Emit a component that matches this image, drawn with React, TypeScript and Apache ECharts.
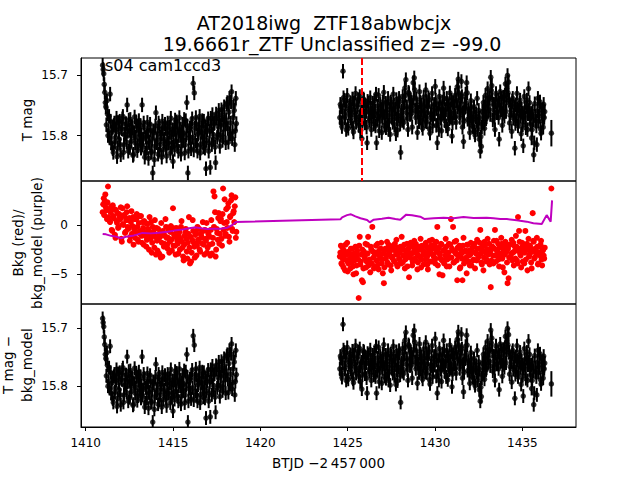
import React, { useEffect, useRef } from "react";
import * as echarts from "echarts";

// ---- data ----
const title1 = "AT2018iwg  ZTF18abwbcjx";
const title2 = "19.6661r_ZTF Unclassified z= -99.0";
const sectorLabel = "s04 cam1ccd3";
const xTicks = [1410, 1415, 1420, 1425, 1430, 1435];
const magTicks = [15.7, 15.8];
const bkgTicks = [-5, 0];
const peakTime = 1425.82;

// sampling grid of the two orbits (BTJD); "b" arrays sit half a step later
const seg1Start = 1410.97;
const seg1Step = 0.061;
const seg2Start = 1424.55;
const seg2Step = 0.06;
const lastTime = 1436.66;

const magErr = 0.012;
const lastMagErr = 0.022;

const tmag1 = [
  15.683, 15.697, 15.728, 15.752, 15.742, 15.8, 15.768, 15.731, 15.812, 15.786,
  15.828, 15.779, 15.803, 15.771, 15.821, 15.794, 15.776, 15.832, 15.789, 15.768,
  15.815, 15.797, 15.78, 15.749, 15.826, 15.791, 15.773, 15.809, 15.787, 15.831,
  15.769, 15.802, 15.784, 15.817, 15.775, 15.798, 15.821, 15.749, 15.806, 15.786,
  15.829, 15.8, 15.778, 15.838, 15.812, 15.791, 15.826, 15.862, 15.795, 15.818,
  15.762, 15.807, 15.831, 15.784, 15.815, 15.797, 15.776, 15.823, 15.806, 15.788,
  15.834, 15.779, 15.812, 15.795, 15.771, 15.819, 15.843, 15.79, 15.774, 15.808,
  15.785, 15.826, 15.77, 15.8, 15.817, 15.781, 15.796, 15.829, 15.775, 15.745,
  15.862, 15.804, 15.787, 15.822, 15.772, 15.713, 15.729, 15.809, 15.781, 15.826,
  15.795, 15.768, 15.814, 15.788, 15.803, 15.776, 15.821, 15.855, 15.791, 15.772,
  15.812, 15.853, 15.784, 15.765, 15.806, 15.779, 15.845, 15.771, 15.798, 15.758,
  15.818, 15.783, 15.766, 15.802, 15.752, 15.789, 15.774, 15.745, 15.811, 15.738,
  15.779, 15.727, 15.794, 15.751, 15.815, 15.738,
];
const tmag1b = [
  15.69, 15.715, 15.745, 15.782, 15.764, 15.792, 15.804, 15.776, 15.795, 15.822,
  15.783, 15.81, 15.79, 15.835, 15.778, 15.806, 15.815, 15.787, 15.772, 15.828,
  15.799, 15.781, 15.811, 15.793, 15.774, 15.82, 15.801, 15.785, 15.833, 15.796,
  15.812, 15.777, 15.825, 15.79, 15.806, 15.783, 15.799, 15.816, 15.779, 15.836,
  15.803, 15.821, 15.793, 15.81, 15.781, 15.828, 15.806, 15.792, 15.84, 15.784,
  15.812, 15.797, 15.779, 15.824, 15.802, 15.836, 15.788, 15.809, 15.781, 15.82,
  15.797, 15.813, 15.786, 15.829, 15.802, 15.79, 15.811, 15.823, 15.796, 15.777,
  15.818, 15.8, 15.789, 15.831, 15.794, 15.808, 15.773, 15.815, 15.799, 15.784,
  15.826, 15.792, 15.811, 15.78, 15.803, 15.824, 15.787, 15.77, 15.816, 15.798,
  15.782, 15.829, 15.794, 15.775, 15.819, 15.801, 15.786, 15.808, 15.779, 15.826,
  15.793, 15.771, 15.815, 15.798, 15.78, 15.819, 15.764, 15.803, 15.785, 15.772,
  15.799, 15.757, 15.808, 15.781, 15.769, 15.812, 15.748, 15.788, 15.761, 15.797,
  15.744, 15.805, 15.77, 15.758, 15.792, 15.78,
];

const tmag2 = [
  15.77, 15.752, 15.785, 15.693, 15.741, 15.768, 15.79, 15.733, 15.788, 15.758,
  15.745, 15.776, 15.739, 15.794, 15.761, 15.73, 15.772, 15.749, 15.783, 15.735,
  15.766, 15.805, 15.752, 15.741, 15.779, 15.76, 15.812, 15.746, 15.771, 15.737,
  15.79, 15.755, 15.768, 15.742, 15.784, 15.812, 15.751, 15.733, 15.776, 15.76,
  15.795, 15.744, 15.728, 15.769, 15.787, 15.752, 15.738, 15.775, 15.798, 15.747,
  15.763, 15.731, 15.782, 15.756, 15.74, 15.791, 15.767, 15.743, 15.828, 15.759,
  15.735, 15.778, 15.721, 15.707, 15.752, 15.79, 15.73, 15.765, 15.744, 15.786,
  15.712, 15.704, 15.758, 15.739, 15.795, 15.762, 15.727, 15.771, 15.749, 15.788,
  15.736, 15.76, 15.724, 15.777, 15.753, 15.741, 15.796, 15.765, 15.73, 15.772,
  15.748, 15.718, 15.783, 15.812, 15.756, 15.735, 15.768, 15.792, 15.744, 15.721,
  15.775, 15.757, 15.738, 15.789, 15.75, 15.729, 15.769, 15.801, 15.745, 15.762,
  15.733, 15.778, 15.719, 15.706, 15.755, 15.74, 15.71, 15.786, 15.81, 15.748,
  15.731, 15.712, 15.773, 15.757, 15.795, 15.742, 15.77, 15.785, 15.752, 15.799,
  15.764, 15.738, 15.781, 15.806, 15.826, 15.818, 15.76, 15.745, 15.788, 15.733,
  15.769, 15.722, 15.751, 15.737, 15.703, 15.717, 15.774, 15.748, 15.79, 15.73,
  15.762, 15.741, 15.806, 15.727, 15.757, 15.783, 15.736, 15.768, 15.714, 15.745,
  15.7, 15.711, 15.779, 15.752, 15.793, 15.738, 15.766, 15.821, 15.749, 15.73,
  15.784, 15.758, 15.741, 15.797, 15.763, 15.817, 15.735, 15.771, 15.752, 15.79,
  15.722, 15.745, 15.781, 15.804, 15.76, 15.832, 15.747, 15.776, 15.815, 15.738,
  15.768, 15.744, 15.796, 15.757, 15.786, 15.77,
];
const tmag2b = [
  15.748, 15.779, 15.76, 15.737, 15.771, 15.755, 15.742, 15.784, 15.763, 15.75,
  15.771, 15.757, 15.788, 15.745, 15.766, 15.778, 15.752, 15.74, 15.769, 15.792,
  15.758, 15.781, 15.739, 15.767, 15.75, 15.786, 15.743, 15.761, 15.775, 15.755,
  15.768, 15.746, 15.781, 15.759, 15.731, 15.773, 15.763, 15.792, 15.748, 15.757,
  15.77, 15.759, 15.783, 15.746, 15.761, 15.775, 15.79, 15.757, 15.744, 15.769,
  15.778, 15.749, 15.763, 15.797, 15.772, 15.752, 15.738, 15.781, 15.766, 15.775,
  15.754, 15.745, 15.733, 15.762, 15.772, 15.728, 15.755, 15.741, 15.763, 15.75,
  15.737, 15.724, 15.77, 15.749, 15.761, 15.777, 15.744, 15.758, 15.782, 15.765,
  15.751, 15.776, 15.743, 15.762, 15.737, 15.789, 15.77, 15.752, 15.784, 15.758,
  15.764, 15.741, 15.755, 15.775, 15.79, 15.746, 15.771, 15.756, 15.763, 15.739,
  15.76, 15.784, 15.747, 15.766, 15.772, 15.756, 15.741, 15.779, 15.763, 15.75,
  15.768, 15.742, 15.753, 15.729, 15.77, 15.758, 15.735, 15.762, 15.776, 15.753,
  15.745, 15.729, 15.76, 15.779, 15.768, 15.754, 15.783, 15.772, 15.794, 15.769,
  15.776, 15.79, 15.758, 15.771, 15.802, 15.786, 15.778, 15.764, 15.752, 15.772,
  15.746, 15.759, 15.738, 15.765, 15.725, 15.74, 15.757, 15.769, 15.744, 15.762,
  15.751, 15.77, 15.746, 15.758, 15.738, 15.763, 15.752, 15.733, 15.76, 15.724,
  15.729, 15.741, 15.766, 15.758, 15.742, 15.771, 15.753, 15.78, 15.768, 15.755,
  15.777, 15.746, 15.768, 15.756, 15.782, 15.769, 15.754, 15.787, 15.741, 15.764,
  15.758, 15.771, 15.763, 15.79, 15.774, 15.812, 15.768, 15.784, 15.759, 15.776,
  15.75, 15.789, 15.763, 15.775, 15.748, 15.76,
];
const lastMag = 15.796;

const bkg1 = [
  1.3, 2.7, 2.4, 1.8, 0.6, 3.9, 1.5, 0.3, 1.9, -0.6,
  0.9, 1.6, -1.3, 0.4, 1.2, -0.2, 0.8, 1.8, -1.7, 0.1,
  1.0, -0.8, 0.5, 1.9, -0.4, 0.7, -1.2, 1.4, -0.1, -2.0,
  0.6, -0.7, 1.1, -1.5, 0.2, -0.9, 0.9, -1.8, -0.3, 0.4,
  -1.1, -2.2, 0.1, -0.6, 0.8, -1.4, -2.8, -0.2, -1.0, 0.5,
  -3.0, -1.6, -0.4, -2.9, -1.2, 0.2, -3.2, -0.8, -1.9, 0.6,
  -1.3, -2.4, -0.5, -1.7, -0.1, -2.6, 1.7, -1.0, -2.1, -0.3,
  -1.6, -2.9, -0.7, -1.4, 0.4, -2.3, -3.6, -1.1, -0.4, -2.7,
  -1.8, 0.8, -3.9, -3.7, -1.5, -0.6, -2.2, -1.0, -3.1, -0.2,
  -1.7, -2.5, -0.9, -1.3, 0.3, -2.0, -0.5, -1.6, -2.8, -0.8,
  -1.2, -3.1, 0.5, -1.9, 3.4, 2.9, -3.2, -0.4, -1.5, 1.2,
  -0.9, 0.6, -2.1, 3.7, 0.2, -1.1, 1.6, -0.3, 2.2, -1.7,
  0.9, 3.0, -0.6, 1.4, 1.9, -1.3,
];
const bkg1b = [
  2.1, 1.0, 3.1, 1.5, 2.3, 0.8, 0.4, 1.3, -0.5, 2.0,
  0.7, -1.0, 1.5, 0.2, -0.3, 1.1, 0.6, -1.4, 1.7, 0.0,
  0.9, -0.7, 1.3, -0.2, 0.5, -1.6, 0.3, -0.9, 0.8, -0.4,
  -1.3, 0.6, -0.2, -1.7, 0.9, -0.6, -1.1, 0.3, -2.0, -0.8,
  0.2, -1.5, -0.4, -2.5, -1.0, 0.3, -1.8, -0.7, -2.3, -1.2,
  -0.3, -2.6, -1.4, -0.9, -3.3, -1.8, -0.6, -2.2, -1.1, -0.2,
  -2.0, -1.3, -2.8, -0.7, -1.5, -0.3, -2.1, -1.2, -3.0, -0.6,
  -1.9, -1.1, -2.5, -0.2, -1.7, -3.2, -2.0, -0.8, -1.4, -3.4,
  -0.9, -2.3, -1.2, -2.8, 0.5, -1.8, -3.3, -0.7, -2.1, -1.5,
  -0.4, -2.7, -1.1, -1.9, -0.6, -3.0, -1.4, 0.2, -2.3, -1.0,
  -2.0, -0.5, -2.9, -1.3, -0.2, 1.3, -2.5, -0.8, 0.7, -1.9,
  0.4, -1.4, 1.1, -0.5, 2.6, -0.9, 0.3, 1.8, -1.2, 0.8,
  2.5, -0.4, 1.2, 0.3, 2.8, -0.7,
];

const bkg2 = [
  -3.2, -2.1, -4.0, -3.5, -2.6, -4.6, -3.0, -1.8, -3.9, -2.9,
  -4.4, -3.3, -2.4, -5.0, -3.6, -2.2, -4.1, -3.0, -7.4, -1.2,
  -3.7, -5.6, -5.8, -2.7, -3.4, -4.3, -2.0, -1.2, -3.8, -4.8,
  -2.5, -0.2, -3.3, -4.2, -2.8, -3.6, -1.9, -4.5, -3.1, -2.4,
  -3.9, -4.9, -5.9, -2.6, -3.4, -1.7, -4.0, -3.0, -2.3, -4.6,
  -3.2, -2.1, -3.7, -2.6, -1.5, -4.2, -2.9, -3.5, -2.2, -1.2,
  -3.8, -2.5, -4.4, -3.0, -1.9, -2.7, -5.3, -3.3, -2.0, -4.1,
  -2.8, -1.6, -3.6, -2.4, -4.5, -3.1, -2.2, -1.4, -3.5, -2.6,
  -4.0, -2.9, -1.8, -3.3, -4.5, -2.5, -3.7, -2.1, -1.5, -3.0,
  -2.3, -3.9, -1.7, -0.2, -2.8, -5.0, -3.4, -2.0, -5.1, -3.6,
  -2.5, -1.4, -4.2, -2.9, -1.9, -3.3, 0.6, -2.4, -0.2, -3.8,
  -2.7, -1.6, -5.6, -3.2, -2.1, -4.3, -2.9, -5.6, -1.3, -3.5,
  -2.6, -4.9, -2.0, -3.1, -4.1, -1.8, -2.7, -3.6, -2.2, -4.4,
  -2.9, -1.5, -3.3, -2.4, -0.5, -3.8, -2.1, -4.6, -1.7, -2.8,
  -3.5, -1.4, -2.5, -4.0, -6.3, -2.2, -3.1, -1.6, -0.5, -3.7,
  -2.6, -1.9, -4.2, -2.9, -1.3, -3.4, -2.3, -4.8, -1.7, -2.7,
  -5.9, -5.4, -2.0, -3.2, -1.5, -2.8, -4.1, -2.2, -1.1, -3.6,
  0.8, -0.6, -2.9, -4.3, -1.8, -2.5, -3.9, -0.6, -2.1, -4.6,
  -1.4, -3.0, -2.4, -4.4, 1.2, -1.7, -3.3, -2.6, -1.3, -4.0,
  -2.2, -3.1, -1.6, -4.1, -2.5, -3.4,
];
const bkg2b = [
  -2.8, -3.9, -2.3, -4.3, -3.1, -2.0, -3.6, -4.7, -2.7, -3.4,
  -2.4, -3.8, -4.2, -2.9, -3.3, -4.9, -2.6, -3.5, -2.1, -4.0,
  -3.0, -2.5, -4.4, -3.2, -1.9, -3.7, -2.9, -4.1, -3.5, -2.2,
  -3.9, -2.7, -4.4, -3.0, -2.1, -3.6, -4.0, -2.6, -3.3, -1.8,
  -3.5, -2.9, -4.3, -2.4, -3.1, -3.8, -2.0, -2.7, -4.1, -3.3,
  -2.5, -3.6, -1.9, -3.0, -4.0, -2.3, -3.4, -2.7, -3.9, -2.4,
  -3.1, -2.0, -3.5, -2.8, -4.2, -2.4, -3.2, -1.8, -2.9, -3.7,
  -2.3, -3.4, -1.9, -2.9, -3.8, -2.5, -3.3, -4.3, -2.1, -3.0,
  -2.7, -3.5, -2.2, -4.0, -3.0, -1.6, -2.8, -3.7, -2.4, -3.2,
  -2.0, -3.4, -2.7, -4.1, -2.3, -3.0, -1.9, -3.6, -2.6, -3.9,
  -3.1, -2.2, -3.5, -2.8, -4.2, -2.0, -3.3, -2.6, -3.8, -1.7,
  -2.9, -3.6, -2.3, -3.0, -4.4, -2.5, -3.4, -2.1, -3.9, -2.7,
  -3.3, -2.0, -3.7, -2.6, -3.0, -4.1, -2.3, -3.5, -1.9, -2.8,
  -3.6, -2.4, -3.1, -1.8, -2.9, -4.0, -2.6, -3.3, -2.1, -3.7,
  -2.5, -3.0, -1.9, -2.7, -3.6, -2.2, -3.9, -2.4, -3.1, -1.6,
  -2.8, -3.5, -2.3, -3.2, -1.9, -4.3, -2.6, -3.0, -2.1, -3.8,
  -2.4, -3.3, -2.0, -2.9, -3.6, -1.8, -2.7, -3.4, -2.2, -3.9,
  -2.6, -1.7, -3.1, -2.3, -3.7, -2.0, -2.8, -3.5, -1.9, -2.5,
  -3.2, -2.1, -3.8, -2.7, -1.6, -3.4, -2.4, -3.0, -2.2, -3.9,
  -2.8, -2.0, -3.5, -2.6, -3.1, -2.3,
];
const lastBkg = 3.7;

// background model (purple line): [BTJD, value]
const bkgModel: [number, number][] = [
  [1410.97, -0.91], [1411.16, -0.95], [1411.45, -1.1], [1411.73, -1.18],
  [1412.02, -1.35], [1412.3, -1.2], [1412.68, -1.1], [1412.97, -0.95],
  [1413.25, -0.8], [1413.73, -0.85], [1414.2, -0.78], [1414.68, -0.68],
  [1415.06, -0.57], [1415.54, -0.45], [1415.92, -0.34], [1416.3, -0.24],
  [1416.59, -0.34], [1416.97, -0.41], [1417.35, -0.37], [1417.73, -0.37],
  [1418.11, -0.27], [1418.4, 0.0], [1418.59, 0.3],
  [1424.58, 0.57], [1424.68, 0.78], [1424.96, 1.0], [1425.19, 1.08],
  [1425.44, 0.88], [1425.73, 0.68], [1426.11, 0.5], [1426.26, 0.27],
  [1426.49, 0.54], [1426.96, 0.64], [1427.34, 0.74], [1427.73, 0.61],
  [1428.01, 0.54], [1428.35, 1.05], [1428.68, 0.98], [1429.15, 0.84],
  [1429.38, 0.61], [1429.92, 0.68], [1430.49, 0.74], [1431.06, 0.68],
  [1431.63, 0.81], [1432.2, 0.71], [1432.96, 0.74], [1433.35, 0.68],
  [1433.73, 0.61], [1434.11, 0.61], [1434.68, 0.47], [1435.25, 0.34],
  [1435.63, 0.17], [1436.11, 0.1], [1436.39, 1.0], [1436.62, 0.34],
  [1436.7, 2.5],
];

// ---- build series data ----
function addSeg(out: any[], vals: number[], start: number, step: number, offset: number, err?: number) {
  vals.forEach((v, i) => {
    const t = start + (i + offset) * step;
    out.push(err === undefined ? [t, v] : [t, v, err]);
  });
}
function magPoints(): [number, number, number][] {
  const pts: any[] = [];
  addSeg(pts, tmag1, seg1Start, seg1Step, 0, magErr);
  addSeg(pts, tmag1b, seg1Start, seg1Step, 0.5, magErr);
  addSeg(pts, tmag2, seg2Start, seg2Step, 0, magErr);
  addSeg(pts, tmag2b, seg2Start, seg2Step, 0.5, magErr);
  pts.push([lastTime, lastMag, lastMagErr]);
  return pts;
}
function bkgPoints(): [number, number][] {
  const pts: any[] = [];
  addSeg(pts, bkg1, seg1Start, seg1Step, 0);
  addSeg(pts, bkg1b, seg1Start, seg1Step, 0.5);
  addSeg(pts, bkg2, seg2Start, seg2Step, 0);
  addSeg(pts, bkg2b, seg2Start, seg2Step, 0.5);
  pts.push([lastTime, lastBkg]);
  return pts;
}

const FONT = "DejaVu Sans";
const X_MIN = 1409.73;
const X_MAX = 1438.07;

export default function App() {
  const ref = useRef<HTMLDivElement>(null);
  useEffect(() => {
    if (!ref.current) return;
    document.body.style.margin = "0";
    const chart = echarts.init(ref.current, null, { renderer: "svg" });
    const mags = magPoints();
    const bkgs = bkgPoints();

    const grids = [
      { left: 81, top: 58, width: 495, height: 123 },
      { left: 81, top: 181, width: 495, height: 123 },
      { left: 81, top: 304, width: 495, height: 123 },
    ].map((g) => ({
      ...g,
      show: true,
      borderColor: "#000",
      borderWidth: 1,
      backgroundColor: "transparent",
    }));

    const xAxes = [0, 1, 2].map((gi) => ({
      type: "value",
      gridIndex: gi,
      min: X_MIN,
      max: X_MAX,
      axisLine: { show: gi === 2, lineStyle: { color: "#000", width: 1 } },
      axisTick: {
        show: gi === 2,
        customValues: xTicks,
        length: 4,
        inside: false,
        lineStyle: { color: "#000" },
      },
      axisLabel: {
        show: gi === 2,
        customValues: xTicks,
        color: "#000",
        fontFamily: FONT,
        fontSize: 12,
        margin: 10,
        formatter: (v: number) => String(v),
      },
      splitLine: { show: false },
    }));

    const yBase = (gi: number, min: number, max: number, ticks: number[], inverse: boolean, fmt: (v: number) => string) => ({
      type: "value",
      gridIndex: gi,
      min,
      max,
      inverse,
      axisLine: { show: true, lineStyle: { color: "#000", width: 1 } },
      axisTick: { show: true, customValues: ticks, length: 4, lineStyle: { color: "#000" } },
      axisLabel: {
        show: true,
        customValues: ticks,
        color: "#000",
        fontFamily: FONT,
        fontSize: 12,
        margin: 13,
        formatter: fmt,
      },
      splitLine: { show: false },
    });

    const magFmt = (v: number) => v.toFixed(1);
    const bkgFmt = (v: number) => (v < 0 ? "\u2212" + Math.abs(v) : String(v));

    const yAxes = [
      yBase(0, 15.671, 15.8755, magTicks, true, magFmt),
      yBase(1, -8.01, 4.46, bkgTicks, false, bkgFmt),
      yBase(2, 15.658, 15.8705, magTicks, true, magFmt),
    ];

    const errRender = (params: any, api: any) => {
      const t = api.value(0);
      const v = api.value(1);
      const e = api.value(2);
      const p1 = api.coord([t, v - e]);
      const p2 = api.coord([t, v + e]);
      return {
        type: "line",
        shape: { x1: p1[0], y1: p1[1], x2: p2[0], y2: p2[1] },
        style: { stroke: "#000", lineWidth: 2 },
      };
    };

    const series: any[] = [];
    [0, 2].forEach((gi) => {
      series.push({
        type: "custom",
        xAxisIndex: gi,
        yAxisIndex: gi,
        data: mags,
        dimensions: ["t", "v", "e"],
        encode: { x: 0, y: 1 },
        renderItem: errRender,
        clip: true,
        silent: true,
      });
      series.push({
        type: "scatter",
        xAxisIndex: gi,
        yAxisIndex: gi,
        data: mags.map((p) => [p[0], p[1]]),
        symbol: "circle",
        symbolSize: 5.5,
        itemStyle: { color: "#000" },
        clip: true,
        silent: true,
        markLine:
          gi === 0
            ? {
                symbol: "none",
                silent: true,
                label: { show: false },
                lineStyle: { color: "#ff0000", type: [7, 3], width: 2 },
                data: [{ xAxis: peakTime }],
              }
            : undefined,
      });
    });
    series.push({
      type: "scatter",
      xAxisIndex: 1,
      yAxisIndex: 1,
      data: bkgs,
      symbol: "circle",
      symbolSize: 6,
      itemStyle: { color: "#ff0000", opacity: 1 },
      clip: true,
      silent: true,
    });
    series.push({
      type: "line",
      xAxisIndex: 1,
      yAxisIndex: 1,
      data: bkgModel,
      showSymbol: false,
      symbol: "none",
      lineStyle: { color: "#bf00bf", width: 2 },
      clip: true,
      silent: true,
    });

    const txt = (x: number, y: number, text: string, size: number, extra: any = {}) => ({
      type: "text",
      x,
      y,
      silent: true,
      ...extra,
      style: {
        text,
        fill: "#000",
        fontFamily: FONT,
        fontSize: size,
        align: "center",
        verticalAlign: "middle",
        ...(extra.style || {}),
      },
    });

    chart.setOption({
      animation: false,
      grid: grids,
      xAxis: xAxes,
      yAxis: yAxes,
      series,
      graphic: [
        txt(324, 22.5, title1, 19),
        txt(332, 44, title2, 19),
        txt(105, 65, sectorLabel, 16, { style: { align: "left" } }),
        txt(26.7, 120, "T mag", 13.5, { rotation: Math.PI / 2 }),
        txt(27.5, 243, "Bkg (red)/\nbkg_model (purple)", 13.5, {
          rotation: Math.PI / 2,
          style: { lineHeight: 18.7 },
        }),
        txt(17.5, 365, "T mag \u2212\nbkg_model", 13.5, {
          rotation: Math.PI / 2,
          style: { lineHeight: 18.7 },
        }),
        txt(328.5, 463, "BTJD \u22122\u2009457\u2009000", 13.5),
      ],
    });
    return () => chart.dispose();
  }, []);
  return <div ref={ref} style={{ width: 640, height: 480 }} />;
}
